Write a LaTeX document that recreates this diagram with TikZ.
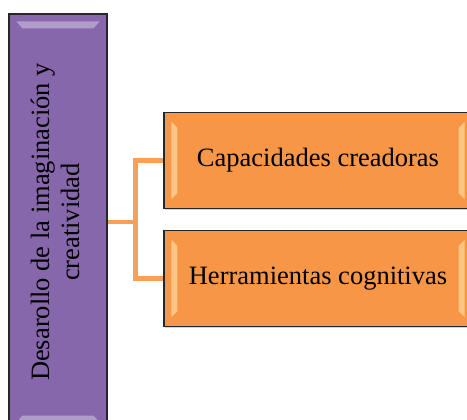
\documentclass[tikz,border=0pt]{standalone}
\usepackage{graphicx}
\usepackage{fontspec}
\setmainfont{Liberation Serif}
\usetikzlibrary{shadows}
\definecolor{morado}{HTML}{8767AB}
\definecolor{naranja}{HTML}{F79646}
\definecolor{brillo}{HTML}{FFE6B0}

\begin{document}
\begin{tikzpicture}[x=1pt,y=-1pt,
caja/.style={draw=black!85,line width=1.2pt,drop shadow={shadow xshift=1pt,shadow yshift=-2pt,opacity=.35}},
eje/.style={caja,fill=morado,minimum width=98pt,minimum height=416pt,inner sep=0pt},
rama/.style={caja,fill=naranja,minimum width=308pt,minimum height=96pt},
enlace/.style={draw=naranja!90!white,line width=4.5pt},
texto/.style={font=\fontsize{26.5}{30}\selectfont}
]
\useasboundingbox (0,0) rectangle (467,420);
\clip (0,0) rectangle (467,420);

% bloque principal
\node[eje,texto] (desarrollo) at (58,222) {\rotatebox{90}{\begin{tabular}{@{}c@{}}Desarollo de la imaginación y\\creatividad\end{tabular}}};
\fill[white,opacity=.35] ([xshift=8pt,yshift=-8pt]desarrollo.north west) -- ([xshift=-8pt,yshift=-8pt]desarrollo.north east)
  -- ([xshift=-14pt,yshift=-15pt]desarrollo.north east) -- ([xshift=14pt,yshift=-15pt]desarrollo.north west) -- cycle;
\fill[white,opacity=.35] ([xshift=8pt,yshift=8pt]desarrollo.south west) -- ([xshift=-8pt,yshift=8pt]desarrollo.south east)
  -- ([xshift=-14pt,yshift=15pt]desarrollo.south east) -- ([xshift=14pt,yshift=15pt]desarrollo.south west) -- cycle;

% ramas
\node[rama,texto] (capacidades) at (318,160.5) {Capacidades creadoras};
\node[rama,texto] (herramientas) at (318,278.5) {Herramientas cognitivas};
\foreach \n in {capacidades,herramientas}{
  \fill[brillo,opacity=.6] ([xshift=8pt,yshift=-10pt]\n.north west) -- ([xshift=14pt,yshift=-16pt]\n.north west)
    -- ([xshift=14pt,yshift=16pt]\n.south west) -- ([xshift=8pt,yshift=10pt]\n.south west) -- cycle;
  \fill[brillo,opacity=.6] ([xshift=-8pt,yshift=-10pt]\n.north east) -- ([xshift=-14pt,yshift=-16pt]\n.north east)
    -- ([xshift=-14pt,yshift=16pt]\n.south east) -- ([xshift=-8pt,yshift=10pt]\n.south east) -- cycle;
}

\draw[enlace] (desarrollo.east) -- ++(28,0) |- (capacidades.west);
\draw[enlace] (desarrollo.east) -- ++(28,0) |- (herramientas.west);
\end{tikzpicture}
\end{document}
